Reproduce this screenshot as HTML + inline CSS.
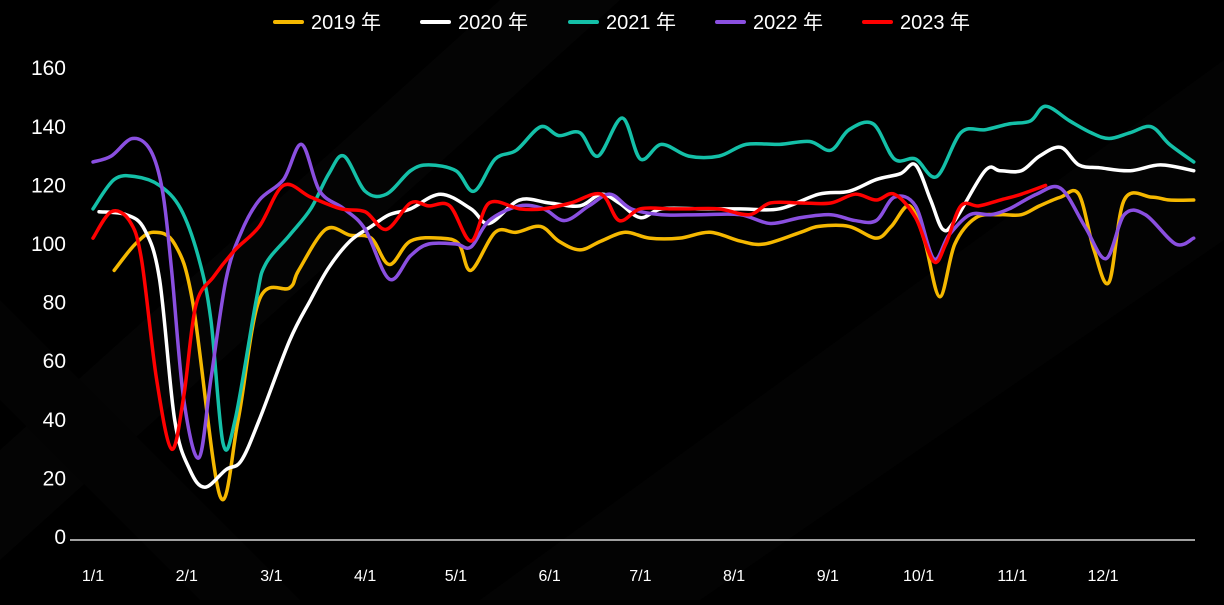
<!DOCTYPE html>
<html><head><meta charset="utf-8">
<style>
html,body{margin:0;padding:0;background:#000;}
body{width:1224px;height:600px;overflow:hidden;font-family:"Liberation Sans","Noto Sans CJK SC",sans-serif;}
svg text{font-family:"Liberation Sans","Noto Sans CJK SC",sans-serif;}
</style></head>
<body>
<svg id="chart" width="1224" height="600" xmlns="http://www.w3.org/2000/svg">
<rect width="1224" height="600" fill="#000"/>
<g opacity="0.35">
<polygon points="500,0 620,0 0,560 0,450" fill="#0c0c0c"/>
<polygon points="1224,60 1224,240 700,600 480,600" fill="#0a0a0a"/>
<polygon points="0,300 300,600 200,600 0,400" fill="#0b0b0b"/>
</g>
<g id="legend"></g>
<g id="yaxis"></g>
<g id="xaxis"></g>
<g id="series"></g>
</svg>
<script>
const yTicks=[0,20,40,60,80,100,120,140,160];
const monthLabels=["1/1","2/1","3/1","4/1","5/1","6/1","7/1","8/1","9/1","10/1","11/1","12/1"];
const monthDays=[0,31,59,90,120,151,181,212,243,273,304,334];
const seriesNames=["2019 年","2020 年","2021 年","2022 年","2023 年"];
const seriesColors=["#f5b800","#ffffff","#14c0a8","#8a4fe0","#ff0000"];
const days2019=[7,14,20,27,33,42,48,55,65,68,77,85,92,98,105,115,121,125,133,140,148,154,161,168,176,184,194,204,214,222,234,240,250,259,264,270,275,280,285,292,300,307,313,320,326,331,336,341,350,356,364];
const vals2019=[91,100,104,100,80,14,40,81,85,91,105,103,102,93,101,102,100,91,104,104,106,101,98,101,104,102,102,104,101,100,104,106,106,102,106,113,101,82,100,109,110,110,113,116,117,98,87,115,116,115,115];
const days2020=[2,11,17,22,27,32,37,44,49,55,65,72,78,85,92,98,105,115,125,131,141,151,161,168,174,181,188,201,214,227,240,250,259,267,272,277,281,285,295,300,307,313,320,326,333,343,353,364];
const vals2020=[111,110,105,88,40,23,17,23,26,40,67,81,92,101,106,110,112,117,112,107,115,114,113,117,114,109,112,112,112,112,117,118,122,124,127,115,105,108,125,125,125,130,133,127,126,125,127,125];
const days2021=[0,7,14,22,29,35,39,43,47,54,57,65,72,78,83,90,97,105,111,120,126,133,140,148,154,161,167,175,181,188,197,207,216,227,237,244,250,258,265,272,279,287,295,303,310,315,323,330,336,343,350,356,364];
const vals2021=[112,122,123,120,112,95,74,32,40,81,93,103,112,124,130,118,117,125,127,125,118,129,132,140,137,138,130,143,129,134,130,130,134,134,135,132,139,141,129,129,123,138,139,141,142,147,142,138,136,138,140,134,128];
const days2022=[0,6,13,19,23,26,30,35,39,44,49,55,63,69,75,83,90,98,105,111,120,125,131,141,149,156,164,171,178,188,201,214,224,234,244,252,259,265,272,278,283,290,297,303,312,320,328,335,341,348,358,364];
const vals2022=[128,130,136,132,118,91,47,27,54,88,104,115,122,134,118,112,105,88,96,100,100,99,108,113,112,108,113,117,112,110,110,110,107,109,110,108,108,116,113,95,103,110,110,112,117,119,106,95,110,110,100,102];
const days2023=[0,6,12,16,21,26,30,34,40,47,55,63,72,82,90,97,105,111,118,125,131,141,149,158,168,174,181,191,197,207,217,224,234,244,252,259,265,272,278,282,287,293,300,307,315];
const vals2023=[102,111,108,95,54,30,48,79,89,98,106,120,116,112,111,105,114,113,113,101,114,112,112,114,117,108,112,112,112,112,110,114,114,114,117,115,117,109,94,100,113,113,115,117,120];
const allDays=[days2019,days2020,days2021,days2022,days2023];
const allVals=[vals2019,vals2020,vals2021,vals2022,vals2023];

const NS="http://www.w3.org/2000/svg";
const X0=93, PXD=3.024, Y0=537, PXV=2.93;
const xScale=d=>X0+d*PXD;
const yScale=v=>Y0-v*PXV;
function mk(tag,attrs,parent){const e=document.createElementNS(NS,tag);for(const k in attrs)e.setAttribute(k,attrs[k]);parent.appendChild(e);return e;}

const yg=document.getElementById('yaxis');
yTicks.forEach(t=>{
  const e=mk('text',{x:66,y:yScale(t)+7,'text-anchor':'end',fill:'#fff','font-size':21},yg);
  
  
  e.textContent=t;
});
const xg=document.getElementById('xaxis');
const ax=mk('line',{x1:70,x2:1195,y1:540,y2:540,stroke:'#fff','stroke-width':1.2},xg);


monthLabels.forEach((m,i)=>{
  const e=mk('text',{x:xScale(monthDays[i]),y:581,'text-anchor':'middle',fill:'#fff','font-size':16},xg);
  
  
  e.textContent=m;
});

function smooth(pts){
  let d=`M${pts[0][0]},${pts[0][1]}`;
  for(let i=0;i<pts.length-1;i++){
    const p0=pts[i-1]||pts[i],p1=pts[i],p2=pts[i+1],p3=pts[i+2]||p2;
    const c1x=p1[0]+(p2[0]-p0[0])/6,c1y=p1[1]+(p2[1]-p0[1])/6;
    const c2x=p2[0]-(p3[0]-p1[0])/6,c2y=p2[1]-(p3[1]-p1[1])/6;
    d+=` C${c1x},${c1y} ${c2x},${c2y} ${p2[0]},${p2[1]}`;
  }
  return d;
}
const sg=document.getElementById('series');
allDays.forEach((ds,i)=>{
  const pts=ds.map((d,j)=>[xScale(d),yScale(allVals[i][j])]);
  const p=mk('path',{d:smooth(pts),fill:'none',stroke:seriesColors[i],'stroke-width':3.5,'stroke-linejoin':'round','stroke-linecap':'round'},sg);
  
  
});

const lg=document.getElementById('legend');
const legX=[275,422,570,717,864];
seriesNames.forEach((n,i)=>{
  const g=mk('g',{},lg);
  
  
  mk('line',{x1:legX[i],x2:legX[i]+27,y1:22,y2:22,stroke:seriesColors[i],'stroke-width':4,'stroke-linecap':'round'},g);
  const t=mk('text',{x:legX[i]+36,y:29,fill:'#fff','font-size':20},g);
  t.textContent=n;
});
</script>
</body></html>
